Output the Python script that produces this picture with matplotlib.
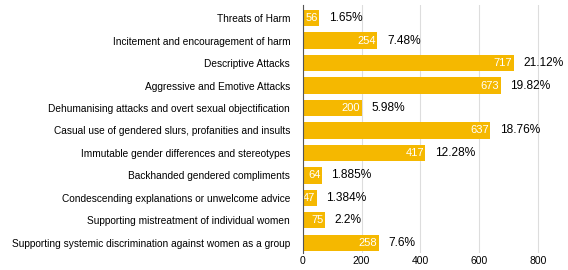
import matplotlib
matplotlib.use('Agg')
import matplotlib.pyplot as plt
import numpy as np

categories = [
    'Threats of Harm',
    'Incitement and encouragement of harm',
    'Descriptive Attacks',
    'Aggressive and Emotive Attacks',
    'Dehumanising attacks and overt sexual objectification',
    'Casual use of gendered slurs, profanities and insults',
    'Immutable gender differences and stereotypes',
    'Backhanded gendered compliments',
    'Condescending explanations or unwelcome advice',
    'Supporting mistreatment of individual women',
    'Supporting systemic discrimination against women as a group',
]
counts = [56, 254, 717, 673, 200, 637, 417, 64, 47, 75, 258]
percent_labels = ['1.65%', '7.48%', '21.12%', '19.82%', '5.98%', '18.76%',
                  '12.28%', '1.885%', '1.384%', '2.2%', '7.6%']
x_ticks = [0, 200, 400, 600, 800]

plt.rcParams['font.family'] = ['Liberation Sans', 'DejaVu Sans']

fig = plt.figure(figsize=(5.68, 2.70), dpi=100)
# axes spans bar rows from -0.6 to 10.45 (22.5 px per row)
ax = fig.add_axes([0.533, 0.063, 0.44, 0.920])

y = np.arange(len(categories))
ax.barh(y, counts, height=0.72, color='#F5B800', zorder=3)

for yi, c, p in zip(y, counts, percent_labels):
    ax.text(c - 4, yi, str(c), ha='right', va='center', color='white',
            fontsize=8, zorder=4)
    ax.text(c + 33, yi, p, ha='left', va='center', color='black', fontsize=8.6)

ax.set_yticks(y)
ax.set_yticklabels(categories, fontsize=7.3)
ax.set_ylim(len(categories) - 0.55, -0.6)
ax.set_xlim(0, 850)
ax.set_xticks(x_ticks)
ax.tick_params(axis='x', labelsize=7.5, length=0, pad=2)
ax.tick_params(axis='y', length=0, pad=9)
ax.grid(axis='x', color='#dddddd', linewidth=0.8, zorder=0)
for s in ['top', 'right', 'bottom']:
    ax.spines[s].set_visible(False)
ax.spines['left'].set_color('#555555')
ax.spines['left'].set_zorder(5)

fig.savefig('out.png', dpi=100)
